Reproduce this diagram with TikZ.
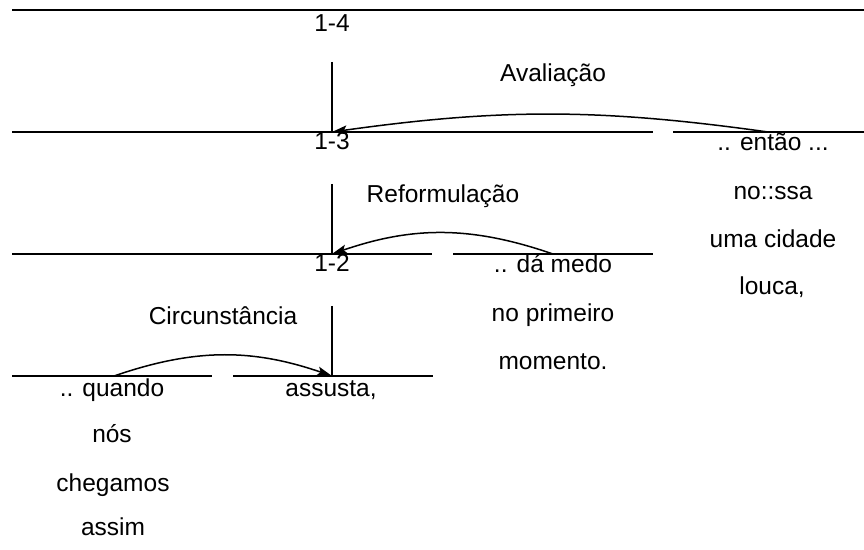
\documentclass[tikz,border=0pt]{standalone}
\usepackage{fontspec}
\setmainfont{Liberation Sans}
\usetikzlibrary{arrows.meta}
\begin{document}
\begin{tikzpicture}[x=1pt,y=1pt,
  rule/.style={line width=1.8pt},
  link/.style={line width=1.5pt,-{Stealth[length=15pt,width=9pt,inset=3pt]}},
  word/.style={inner sep=0pt,font=\fontsize{24.5}{29}\selectfont,text height=0.72em,text depth=0.2em,anchor=center}]
\useasboundingbox (0,0) rectangle (864,549);
% level lines
\coordinate (l4a) at (12,539); \coordinate (l4b) at (864,539);
\coordinate (l3a) at (12,417); \coordinate (l3b) at (653,417);
\coordinate (l3c) at (673,417); \coordinate (l3d) at (864,417);
\coordinate (l2a) at (12,295); \coordinate (l2b) at (432,295);
\coordinate (l2c) at (453,295); \coordinate (l2d) at (653,295);
\coordinate (l1a) at (12,173); \coordinate (l1b) at (212,173);
\coordinate (l1c) at (233,173); \coordinate (l1d) at (433,173);
\draw[rule] (l4a) -- (l4b);
\draw[rule] (l3a) -- (l3b); \draw[rule] (l3c) -- (l3d);
\draw[rule] (l2a) -- (l2b); \draw[rule] (l2c) -- (l2d);
\draw[rule] (l1a) -- (l1b); \draw[rule] (l1c) -- (l1d);
% verticals
\coordinate (v3t) at (332,487); \coordinate (v3b) at (332,417);
\coordinate (v2t) at (332,365); \coordinate (v2b) at (332,295);
\coordinate (v1t) at (332,243); \coordinate (v1b) at (332,173);
\draw[rule] (v3t) -- (v3b);
\draw[rule] (v2t) -- (v2b);
\draw[rule] (v1t) -- (v1b);
% level labels
\node[word] (n14) at (332,520) {1-4};
\node[word] (n13) at (332,402) {1-3};
\node[word] (n12) at (332,280) {1-2};
% relation labels
\node[word] (aval) at (553,470) {Avaliação};
\node[word] (refo) at (443,349) {Reformulação};
\node[word] (circ) at (223,227) {Circunstância};
% right column
\node[word] (t1) at (773,401) {.. então ...};
\node[word] (t2) at (773,352) {no::ssa};
\node[word] (t3) at (773,304) {uma cidade};
\node[word] (t4) at (772,257) {louca,};
% middle column
\node[word] (m1) at (553,279) {.. dá medo};
\node[word] (m2) at (553,230) {no primeiro};
\node[word] (m3) at (553,182) {momento.};
% left column
\node[word] (q1) at (112,155) {.. quando};
\node[word] (q2) at (112,109) {nós};
\node[word] (q3) at (113,60) {chegamos};
\node[word] (q4) at (113,16) {assim};
\node[word] (as) at (331,155) {assusta,};
% arrows
\coordinate (a3s) at (768,417);
\coordinate (a2s) at (553,295);
\coordinate (a1s) at (114,173);
\draw[link] (a3s) to[out=172,in=8] (v3b);
\draw[link] (a2s) to[out=161,in=19] (v2b);
\draw[link] (a1s) to[out=19,in=161] (v1b);
\end{tikzpicture}
\end{document}
